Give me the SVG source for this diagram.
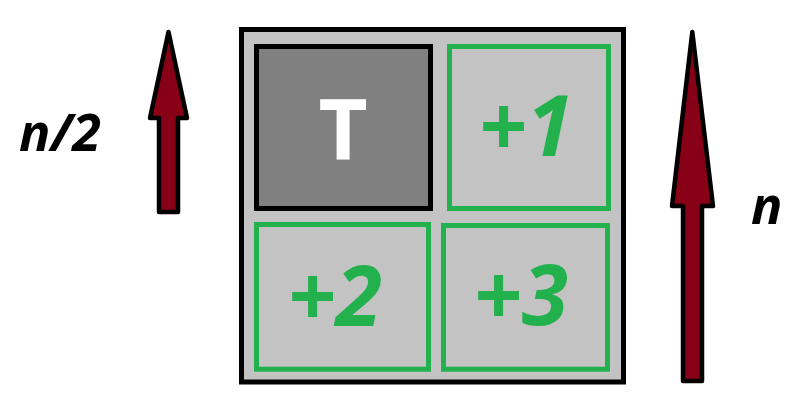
<svg xmlns="http://www.w3.org/2000/svg" width="811" height="411" viewBox="0 0 811 411">
<style>
.arrow{fill:#880015;stroke:#000;stroke-width:4.5;stroke-linejoin:round}
.box{fill:#c3c3c3;stroke:#22b14c;stroke-width:5}
.num{font-family:"Open Sans","Liberation Sans",sans-serif;font-weight:bold;font-style:italic;font-size:84px;fill:#22b14c;text-anchor:middle}
.lbl{font-family:"Open Sans","Liberation Sans",sans-serif;font-weight:bold;font-style:italic;font-size:52px;fill:#000}
</style>
<rect width="811" height="411" fill="#fff"/>
<g id="grid">
<rect x="241.5" y="29.5" width="382" height="352.5" fill="#c3c3c3" stroke="#000" stroke-width="5"/>
</g>
<g id="cellT">
<rect x="256.5" y="46.5" width="174" height="162" fill="#808080" stroke="#000" stroke-width="5"/>
<text x="343" y="160" font-family="Open Sans, Liberation Sans, sans-serif" font-weight="bold" font-size="85" fill="#fff" text-anchor="middle">T</text>
</g>
<g id="cell1">
<rect class="box" x="449.5" y="46.5" width="159" height="162"/>
<text class="num" x="526" y="156">+1</text>
</g>
<g id="cell2">
<rect class="box" x="256.5" y="224.5" width="172" height="144.7"/>
<text class="num" x="335" y="326">+2</text>
</g>
<g id="cell3">
<rect class="box" x="443.5" y="225.5" width="164" height="143.7"/>
<text class="num" x="521" y="325">+3</text>
</g>
<g id="connectors">
<polygon id="arrowHalf" class="arrow" points="168.5,32 187,118 178,118 178,212 159,212 159,118 150,118"/>
<polygon id="arrowFull" class="arrow" points="692.3,32 713,206 702,206 702,381 683,381 683,206 672,206"/>
</g>
<g id="labelHalf"><text class="lbl" x="19" y="151">n/2</text></g>
<g id="labelN"><text class="lbl" x="751" y="224">n</text></g>
</svg>
